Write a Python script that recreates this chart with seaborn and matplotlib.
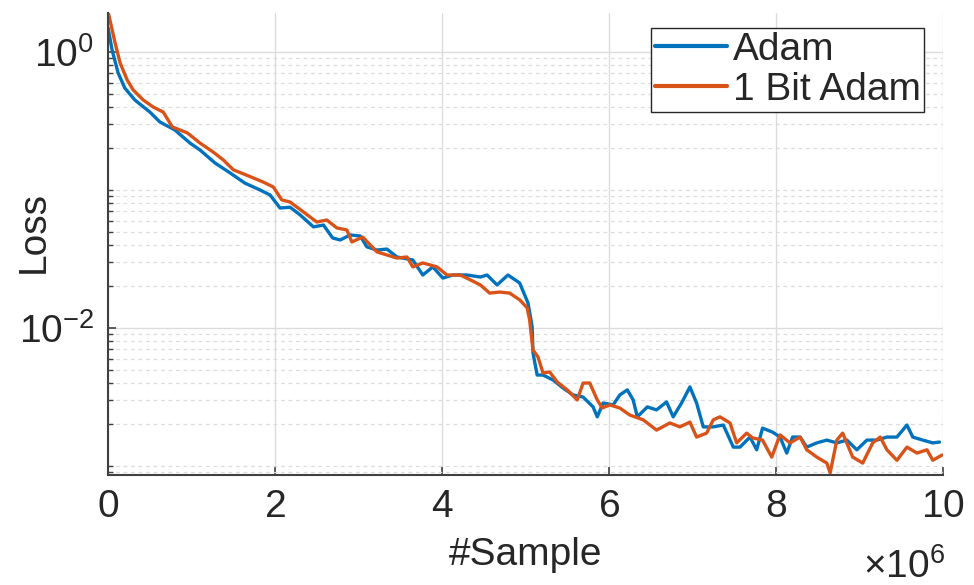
"""
Loss curves: Adam vs 1 Bit Adam (log scale)
"""

import numpy as np
import pandas as pd
import matplotlib
matplotlib.use('Agg')
import matplotlib.pyplot as plt
import seaborn as sns
from matplotlib.ticker import LogLocator, LogFormatterSciNotation, ScalarFormatter, NullFormatter

# samples in millions, loss values
adam_x = [0.00, 0.048, 0.12, 0.20, 0.32, 0.50, 0.62, 0.80, 0.98, 1.10, 1.28, 1.46,
          1.64, 1.82, 1.94, 2.06, 2.18, 2.30, 2.46, 2.58, 2.69, 2.78, 2.90, 3.02,
          3.10, 3.22, 3.34, 3.46, 3.65, 3.77, 3.89, 4.01, 4.13, 4.30, 4.46, 4.54,
          4.66, 4.79, 4.93, 5.03, 5.08, 5.09, 5.14, 5.21, 5.33, 5.45, 5.57, 5.69,
          5.81, 5.86, 5.93, 6.05, 6.13, 6.22, 6.29, 6.34, 6.46, 6.57, 6.69, 6.77,
          6.87, 6.97, 7.05, 7.13, 7.25, 7.37, 7.49, 7.57, 7.69, 7.77, 7.84, 7.96,
          8.05, 8.13, 8.20, 8.29, 8.37, 8.49, 8.61, 8.73, 8.85, 8.97, 9.09, 9.21,
          9.33, 9.45, 9.57, 9.64, 9.76, 9.88, 9.96]
adam_loss = [1.49, 1.03, 0.705, 0.548, 0.449, 0.367, 0.311, 0.272, 0.219, 0.195, 0.157, 0.133,
             0.112, 0.100, 0.092, 0.074, 0.075, 0.066, 0.054, 0.0557, 0.0449, 0.0434, 0.0472, 0.0464,
             0.0387, 0.0367, 0.0373, 0.0327, 0.0311, 0.0242, 0.0277, 0.0230, 0.0242, 0.0242, 0.0234, 0.0242,
             0.0205, 0.0242, 0.0212, 0.0152, 0.0102, 0.00659, 0.00456, 0.00456, 0.00420, 0.00367, 0.00327, 0.00316,
             0.00268, 0.00227, 0.00286, 0.00277, 0.00327, 0.00356, 0.00301, 0.00227, 0.00268, 0.00255, 0.00291, 0.00227,
             0.00286, 0.00374, 0.00286, 0.00192, 0.00192, 0.00198, 0.00137, 0.00137, 0.00162, 0.00131, 0.00188, 0.00176,
             0.00162, 0.00124, 0.00162, 0.00162, 0.00137, 0.00147, 0.00154, 0.00147, 0.00154, 0.00131, 0.00154, 0.00154,
             0.00162, 0.00162, 0.00198, 0.00162, 0.00154, 0.00147, 0.00149]

onebit_x = [0.00, 0.084, 0.144, 0.228, 0.30, 0.42, 0.54, 0.66, 0.77, 0.95, 1.10, 1.26,
            1.38, 1.50, 1.66, 1.86, 1.98, 2.08, 2.18, 2.34, 2.50, 2.62, 2.74, 2.86,
            2.92, 3.05, 3.22, 3.34, 3.46, 3.58, 3.65, 3.77, 3.94, 4.06, 4.22, 4.34,
            4.46, 4.57, 4.69, 4.81, 4.93, 5.02, 5.05, 5.09, 5.15, 5.21, 5.29, 5.38,
            5.50, 5.62, 5.69, 5.77, 5.86, 5.92, 6.01, 6.13, 6.25, 6.41, 6.57, 6.73,
            6.85, 6.97, 7.05, 7.17, 7.25, 7.33, 7.45, 7.53, 7.65, 7.72, 7.84, 7.95,
            8.05, 8.17, 8.29, 8.37, 8.49, 8.61, 8.65, 8.73, 8.80, 8.92, 9.04, 9.16,
            9.25, 9.33, 9.45, 9.57, 9.69, 9.81, 9.88, 9.99]
onebit_loss = [1.95, 1.16, 0.832, 0.627, 0.531, 0.449, 0.399, 0.367, 0.286, 0.259, 0.219, 0.188,
               0.165, 0.140, 0.128, 0.114, 0.105, 0.0847, 0.0818, 0.0693, 0.0586, 0.0606, 0.0531, 0.0513,
               0.0420, 0.0456, 0.0356, 0.0338, 0.0321, 0.0327, 0.0277, 0.0296, 0.0277, 0.0242, 0.0242, 0.0223,
               0.0205, 0.0179, 0.0182, 0.0179, 0.0160, 0.0140, 0.0114, 0.00693, 0.00617, 0.00472, 0.00480, 0.00406,
               0.00356, 0.00301, 0.00399, 0.00399, 0.00301, 0.00263, 0.00277, 0.00263, 0.00234, 0.00216, 0.00182, 0.00205,
               0.00192, 0.00208, 0.00162, 0.00173, 0.00216, 0.00227, 0.00205, 0.00147, 0.00173, 0.00160, 0.00154, 0.00116,
               0.00168, 0.00147, 0.00162, 0.00131, 0.00116, 0.00105, 0.00089, 0.00154, 0.00173, 0.00116, 0.00105, 0.00147,
               0.00162, 0.00131, 0.00110, 0.00137, 0.00124, 0.00131, 0.00110, 0.00120]

labels = ['Adam', '1 Bit Adam']
colors = {'Adam': '#0072BD', '1 Bit Adam': '#D95319'}

df = pd.concat([
    pd.DataFrame({'samples': np.array(adam_x) * 1e6, 'loss': adam_loss, 'optimizer': labels[0]}),
    pd.DataFrame({'samples': np.array(onebit_x) * 1e6, 'loss': onebit_loss, 'optimizer': labels[1]}),
], ignore_index=True)

sns.set_theme(style='white')
plt.rcParams['font.family'] = ['Liberation Sans', 'DejaVu Sans']
plt.rcParams['mathtext.fontset'] = 'custom'
plt.rcParams['mathtext.rm'] = 'Liberation Sans'
plt.rcParams['mathtext.it'] = 'Liberation Sans'
plt.rcParams['axes.unicode_minus'] = False

fig = plt.figure(figsize=(9.74, 5.85), dpi=100)
ax = fig.add_axes([0.111, 0.188, 0.857, 0.790])

sns.lineplot(data=df, x='samples', y='loss', hue='optimizer', palette=colors,
             estimator=None, sort=False, linewidth=2.4, ax=ax)

ax.set_yscale('log')
ax.set_xlim(0, 1e7)
ax.set_ylim(8.6e-4, 1.92)

# x axis: numbers in units of 10^6, multiplier drawn under the right end
ax.set_xticks(np.arange(0, 1.01e7, 2e6))
fmt = ScalarFormatter(useMathText=True)
fmt.set_powerlimits((6, 6))
ax.xaxis.set_major_formatter(fmt)
ax.xaxis.get_offset_text().set_visible(False)
ax.text(1.003, -0.222, r'$\times\mathdefault{10^{6}}$', transform=ax.transAxes,
        ha='right', va='baseline', fontsize=28, color='#262626')

# y axis: labels every two decades, minor ticks everywhere else
ax.yaxis.set_major_locator(LogLocator(base=100.0, numticks=10))
ax.yaxis.set_major_formatter(LogFormatterSciNotation(base=10))
ax.yaxis.set_minor_locator(LogLocator(base=10.0, subs=np.arange(1, 10), numticks=50))
ax.yaxis.set_minor_formatter(NullFormatter())

ax.grid(True, which='major', color='#dcdcdc', linewidth=1.0, linestyle='-')
ax.grid(True, which='minor', axis='y', color='#dcdcdc', linewidth=0.9, linestyle=(0, (3, 3)))
ax.set_axisbelow(True)

for side in ['top', 'right']:
    ax.spines[side].set_visible(False)
for side in ['left', 'bottom']:
    ax.spines[side].set_color('#404040')
    ax.spines[side].set_linewidth(1.5)

ax.tick_params(axis='both', which='major', direction='in', length=6, width=1.2,
               labelsize=28, colors='#404040', labelcolor='#262626', pad=10)
ax.tick_params(axis='y', which='minor', direction='in', length=3.5, width=1.0, colors='#404040')
ax.tick_params(axis='x', which='major', bottom=True)
ax.tick_params(axis='y', which='both', left=True)

ax.set_xlabel('#Sample', fontsize=28, color='#262626')
ax.xaxis.set_label_coords(0.5, -0.135)
ax.set_ylabel('Loss', fontsize=28, color='#262626')
ax.yaxis.set_label_coords(-0.067, 0.526)

leg = ax.legend(loc='upper right', bbox_to_anchor=(0.978, 0.967), fontsize=28, frameon=True,
                fancybox=False, edgecolor='#262626', framealpha=1.0, handlelength=1.85,
                handletextpad=0.15, borderpad=0.1, labelspacing=0.1, borderaxespad=0.0)
leg.get_frame().set_linewidth(1.0)
for line in leg.get_lines():
    line.set_linewidth(3.0)

plt.savefig('out.png', dpi=100)
